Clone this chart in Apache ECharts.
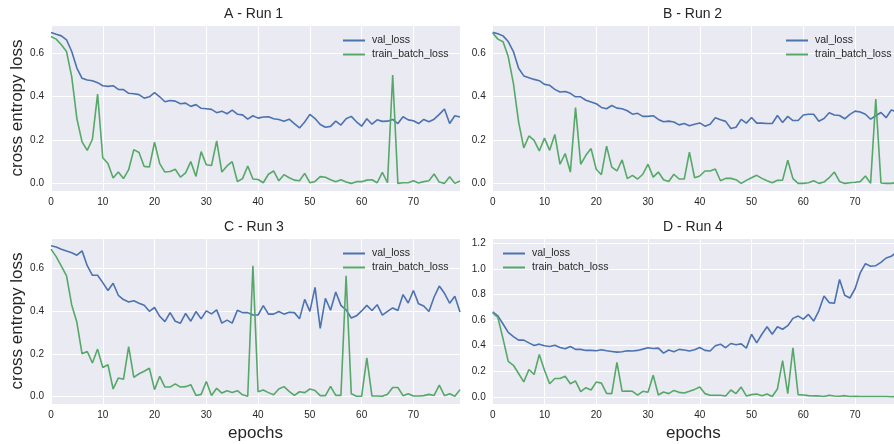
<!DOCTYPE html>
<html><head><meta charset="utf-8">
<script src="https://cdn.jsdelivr.net/npm/echarts@6/dist/echarts.min.js"></script>
<style>html,body{margin:0;padding:0;background:#fff}#c{width:894px;height:444px}</style>
</head><body><div id="c"></div>
<script>
const epochs = [0,1,2,3,4,5,6,7,8,9,10,11,12,13,14,15,16,17,18,19,20,21,22,23,24,25,26,27,28,29,30,31,32,33,34,35,36,37,38,39,40,41,42,43,44,45,46,47,48,49,50,51,52,53,54,55,56,57,58,59,60,61,62,63,64,65,66,67,68,69,70,71,72,73,74,75,76,77,78,79];
const xTicks = [0,10,20,30,40,50,60,70];
const seriesNames = ['val_loss','train_batch_loss'];
const panelTitles = ['A - Run 1','B - Run 2','C - Run 3','D - Run 4'];

const a_val = [0.694,0.685,0.678,0.66,0.606,0.53,0.483,0.475,0.472,0.463,0.449,0.446,0.449,0.432,0.431,0.414,0.412,0.408,0.392,0.398,0.417,0.398,0.375,0.381,0.378,0.366,0.369,0.354,0.362,0.345,0.343,0.34,0.325,0.332,0.32,0.337,0.318,0.315,0.295,0.311,0.30,0.305,0.306,0.297,0.294,0.286,0.295,0.275,0.255,0.282,0.317,0.298,0.271,0.258,0.262,0.286,0.268,0.297,0.308,0.283,0.263,0.297,0.272,0.292,0.285,0.286,0.294,0.275,0.306,0.292,0.288,0.275,0.294,0.283,0.295,0.317,0.342,0.275,0.311,0.305];
const a_train = [0.675,0.663,0.637,0.606,0.491,0.298,0.191,0.152,0.203,0.41,0.118,0.091,0.025,0.052,0.022,0.063,0.155,0.142,0.078,0.075,0.189,0.091,0.052,0.055,0.065,0.029,0.048,0.10,0.032,0.146,0.086,0.082,0.195,0.052,0.08,0.10,0.009,0.022,0.08,0.02,0.018,0.003,0.042,0.057,0.012,0.04,0.026,0.015,0.012,0.046,0.003,0.009,0.031,0.028,0.017,0.008,0.017,0.006,0.0,0.008,0.008,0.015,0.017,0.003,0.051,0.003,0.498,0.0,0.003,0.003,0.012,0.002,0.008,0.012,0.043,0.006,0.0,0.031,0.0,0.011];
const b_val = [0.694,0.688,0.678,0.652,0.606,0.529,0.494,0.486,0.478,0.472,0.455,0.451,0.432,0.42,0.422,0.414,0.398,0.398,0.382,0.374,0.366,0.349,0.343,0.358,0.346,0.343,0.334,0.318,0.322,0.308,0.308,0.311,0.294,0.283,0.286,0.282,0.269,0.275,0.265,0.272,0.278,0.263,0.272,0.302,0.292,0.285,0.252,0.258,0.294,0.277,0.303,0.277,0.277,0.275,0.275,0.312,0.28,0.308,0.289,0.289,0.314,0.318,0.318,0.286,0.298,0.325,0.314,0.312,0.297,0.317,0.332,0.328,0.318,0.295,0.311,0.326,0.302,0.337,0.33,0.32];
const b_train = [0.691,0.663,0.651,0.583,0.46,0.283,0.163,0.218,0.198,0.149,0.208,0.152,0.225,0.088,0.137,0.052,0.348,0.088,0.129,0.16,0.065,0.04,0.171,0.075,0.057,0.108,0.022,0.037,0.02,0.042,0.088,0.029,0.052,0.017,0.009,0.042,0.02,0.02,0.144,0.026,0.034,0.057,0.057,0.066,0.012,0.023,0.023,0.017,0.0,0.014,0.026,0.037,0.023,0.012,0.003,0.014,0.015,0.106,0.022,0.0,0.0,0.003,0.012,0.0,0.006,0.026,0.052,0.009,0.0,0.003,0.005,0.008,0.034,0.0,0.388,0.002,0.0,0.0,0.004,0.003];
const c_val = [0.704,0.698,0.688,0.679,0.671,0.66,0.68,0.611,0.566,0.566,0.532,0.495,0.529,0.473,0.453,0.442,0.447,0.436,0.426,0.398,0.416,0.375,0.35,0.392,0.352,0.343,0.388,0.352,0.397,0.363,0.40,0.386,0.405,0.343,0.357,0.343,0.403,0.392,0.392,0.381,0.381,0.425,0.385,0.385,0.397,0.385,0.394,0.392,0.363,0.454,0.398,0.51,0.319,0.459,0.403,0.488,0.426,0.405,0.367,0.377,0.40,0.426,0.402,0.429,0.38,0.398,0.414,0.402,0.476,0.437,0.495,0.433,0.423,0.397,0.465,0.516,0.482,0.436,0.468,0.395];
const c_train = [0.688,0.653,0.609,0.563,0.428,0.347,0.20,0.211,0.157,0.222,0.136,0.149,0.036,0.087,0.081,0.234,0.09,0.107,0.119,0.133,0.033,0.095,0.045,0.045,0.06,0.045,0.047,0.056,0.006,0.011,0.071,0.006,0.039,0.017,0.028,0.02,0.028,0.009,0.002,0.61,0.023,0.031,0.019,0.009,0.036,0.047,0.025,0.006,0.023,0.019,0.036,0.029,0.005,0.005,0.048,0.006,0.006,0.564,0.014,0.002,0.002,0.181,0.003,0.003,0.002,0.011,0.043,0.043,0.005,0.014,0.003,0.003,0.005,0.011,0.006,0.054,0.005,0.014,0.002,0.033];
const d_val = [0.664,0.633,0.569,0.504,0.471,0.443,0.443,0.422,0.402,0.412,0.399,0.394,0.404,0.386,0.376,0.394,0.371,0.371,0.363,0.363,0.36,0.368,0.36,0.355,0.35,0.353,0.36,0.358,0.363,0.373,0.384,0.378,0.381,0.342,0.366,0.353,0.371,0.366,0.358,0.368,0.386,0.363,0.358,0.399,0.412,0.384,0.417,0.407,0.414,0.381,0.489,0.422,0.489,0.548,0.489,0.548,0.528,0.556,0.613,0.631,0.607,0.644,0.592,0.672,0.788,0.736,0.731,0.916,0.793,0.772,0.844,0.968,1.04,1.019,1.024,1.05,1.084,1.097,1.13,1.17];
const d_train = [0.656,0.62,0.453,0.278,0.247,0.183,0.118,0.214,0.175,0.332,0.208,0.103,0.144,0.144,0.162,0.103,0.124,0.041,0.072,0.054,0.116,0.108,0.028,0.026,0.27,0.044,0.046,0.044,0.015,0.044,0.036,0.17,0.015,0.039,0.026,0.051,0.036,0.031,0.044,0.059,0.077,0.026,0.013,0.013,0.013,0.008,0.054,0.026,0.077,0.008,0.018,0.023,0.01,0.023,0.003,0.062,0.283,0.026,0.384,0.018,0.015,0.01,0.008,0.008,0.003,0.013,0.008,0.005,0.01,0.003,0.005,0.003,0.003,0.003,0.004,0.003,0.003,0.002,0.003,0.002];

const COL_VAL = '#4C72B0', COL_TRAIN = '#55A868';
const TXT = '#262626';
const FONT = '"Liberation Sans", Arial, sans-serif';

// right-hand panels are cut off at the figure edge in the reference (visible x range ends near 77.5)
const panels = [
  {title: panelTitles[0], val: a_val, train: a_train, left: 51,    top: 25,  w: 409,   xMax: 79,   yMin: -0.035, yMax: 0.728, split: 5, lg: {left: 343, top: 35},  tl: 224, ty: 7,   ylab: true,  xlab: false},
  {title: panelTitles[1], val: b_val, train: b_train, left: 492.7, top: 25,  w: 401.3, xMax: 77.52, yMin: -0.035, yMax: 0.728, split: 5, lg: {left: 786, top: 35},  tl: 663, ty: 7,   ylab: false, xlab: false},
  {title: panelTitles[2], val: c_val, train: c_train, left: 51,    top: 238, w: 409,   xMax: 79,   yMin: -0.034, yMax: 0.740, split: 5, lg: {left: 343, top: 248}, tl: 224, ty: 220, ylab: true,  xlab: true},
  {title: panelTitles[3], val: d_val, train: d_train, left: 492.7, top: 238, w: 401.3, xMax: 77.52, yMin: -0.055, yMax: 1.240, split: 6, lg: {left: 503, top: 248}, tl: 663, ty: 220, ylab: false, xlab: true}
];

const option = {
  animation: false,
  backgroundColor: '#ffffff',
  textStyle: {fontFamily: FONT},
  title: [], grid: [], xAxis: [], yAxis: [], series: [], legend: []
};

panels.forEach((p, k) => {
  option.title.push({text: p.title, left: p.tl, top: p.ty, padding: 0,
    textStyle: {fontSize: 14, fontWeight: 'normal', color: TXT, fontFamily: FONT}});
  option.grid.push({left: p.left, top: p.top, width: p.w, height: 166, show: true,
    backgroundColor: '#EAEAF2', borderWidth: 0, containLabel: false});
  option.xAxis.push({type: 'value', gridIndex: k, min: 0, max: p.xMax, interval: 10,
    name: p.xlab ? 'epochs' : '', nameLocation: 'middle', nameGap: 21,
    nameTextStyle: {fontSize: 17, color: TXT, fontFamily: FONT},
    axisLine: {show: false}, axisTick: {show: false},
    axisLabel: {fontSize: 10, color: TXT, margin: 6, showMaxLabel: false, fontFamily: FONT,
      formatter: v => (xTicks.indexOf(v) >= 0 ? String(v) : '')},
    splitLine: {show: true, lineStyle: {color: '#ffffff', width: 1}}});
  option.yAxis.push({type: 'value', gridIndex: k, min: p.yMin, max: p.yMax, splitNumber: p.split,
    name: p.ylab ? 'cross entropy loss' : '', nameLocation: 'middle', nameGap: 24.5, nameRotate: 90,
    nameTextStyle: {fontSize: 17, color: TXT, fontFamily: FONT},
    axisLine: {show: false}, axisTick: {show: false},
    axisLabel: {fontSize: 10, color: TXT, margin: 7, showMinLabel: false, showMaxLabel: false, fontFamily: FONT,
      formatter: v => (Math.abs(v * 10 - Math.round(v * 10)) < 1e-6 ? v.toFixed(1) : '')},
    splitLine: {show: true, lineStyle: {color: '#ffffff', width: 1}}});
  option.series.push({name: seriesNames[0], type: 'line', xAxisIndex: k, yAxisIndex: k, clip: true,
    symbol: 'none', showSymbol: false, color: COL_VAL, lineStyle: {width: 1.6, color: COL_VAL},
    data: epochs.map((e, i) => [e, p.val[i]])});
  option.series.push({name: seriesNames[1], type: 'line', xAxisIndex: k, yAxisIndex: k, clip: true,
    symbol: 'none', showSymbol: false, color: COL_TRAIN, lineStyle: {width: 1.6, color: COL_TRAIN},
    data: epochs.map((e, i) => [e, p.train[i]])});
  option.legend.push({data: seriesNames, orient: 'vertical', left: p.lg.left, top: p.lg.top,
    icon: 'rect', itemWidth: 22, itemHeight: 2, itemGap: 3, padding: 0, selectedMode: false,
    textStyle: {fontSize: 10.5, color: TXT, fontFamily: FONT, padding: [0, 0, 0, 2]}});
});

const chart = echarts.init(document.getElementById('c'), null, {renderer: 'canvas'});
chart.setOption(option);
</script></body></html>
